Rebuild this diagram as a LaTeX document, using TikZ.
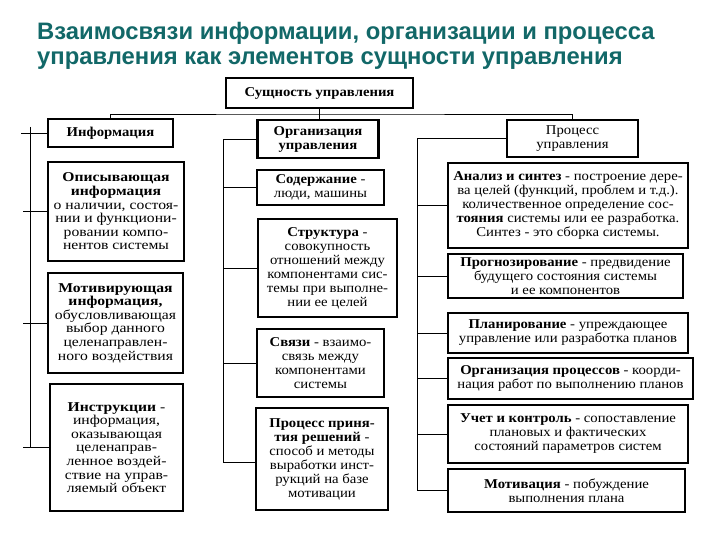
\documentclass[tikz,border=0pt]{standalone}
\usepackage{fontspec}
\setmainfont{Liberation Serif}[FakeStretch=1.09]
\newfontfamily\widefont{Liberation Serif}[FakeStretch=1.16]
\newfontfamily\titlefont{Liberation Sans}
\definecolor{titlecol}{RGB}{18,104,104}
\begin{document}
\begin{tikzpicture}[x=1pt,y=-1pt,
  bx/.style={draw=black, line width=2.4pt, fill=white, align=center, inner sep=2pt,
    font=\fontsize{13.5}{14}\selectfont},
  wbx/.style={bx, font=\widefont\fontsize{13.5}{13.6}\selectfont},
  conn/.style={draw=black, line width=0.85pt},
  ttl/.style={anchor=base west, text=titlecol, font=\titlefont\bfseries\fontsize{23.8}{26}\selectfont, inner sep=0pt}]
\useasboundingbox (0,0) rectangle (720,540);
\fill[white] (0,0) rectangle (720,540);

\node[ttl] (title1) at (37,40) {Взаимосвязи информации, организации и процесса};
\node[ttl] (title2) at (37,65) {управления как элементов сущности управления};

% top level
\node[bx, minimum width=187, minimum height=30] (top) at (319.5,93) {\textbf{Сущность управления}};
\node[bx, minimum width=125, minimum height=28] (info) at (110.5,133) {\textbf{Информация}};
\node[bx, minimum width=121, minimum height=38] (org) at (318,139) {\textbf{Организация}\\\textbf{управления}};
\node[bx, minimum width=131, minimum height=37] (proc) at (572.5,138.5) {Процесс\\управления};

% left column
\node[wbx, minimum width=136, minimum height=99] (desc) at (116,211.5) {\textbf{Описывающая}\\\textbf{информация}\\о наличии, состоя-\\нии и функциони-\\ровании компо-\\нентов системы};
\node[wbx, minimum width=135, minimum height=100] (motiv) at (115.5,323) {\textbf{Мотивирующая}\\\textbf{информация,}\\обусловливающая\\выбор данного\\целенаправлен-\\ного воздействия};
\node[wbx, minimum width=133, minimum height=127] (instr) at (116.5,447.5) {\textbf{Инструкции} -\\информация,\\оказывающая\\целенаправ-\\ленное воздей-\\ствие на управ-\\ляемый объект};

% middle column
\node[bx, minimum width=127, minimum height=35] (cont) at (320.5,187.5) {\textbf{Содержание} -\\люди, машины};
\node[bx, minimum width=139, minimum height=98] (struct) at (327.5,268) {\textbf{Структура} -\\совокупность\\отношений между\\компонентами сис-\\темы при выполне-\\нии ее целей};
\node[bx, minimum width=127, minimum height=68] (links) at (320.5,363) {\textbf{Связи} - взаимо-\\связь между\\компонентами\\системы};
\node[bx, minimum width=132, minimum height=102] (dec) at (322,459) {\textbf{Процесс приня-}\\\textbf{тия решений} -\\способ и методы\\выработки инст-\\рукций на базе\\мотивации};

% right column
\node[bx, minimum width=240, minimum height=85] (anal) at (568,205.5) {\textbf{Анализ и синтез} - построение дере-\\ва целей (функций, проблем и т.д.).\\количественное определение сос-\\\textbf{тояния} системы или ее разработка.\\Синтез - это сборка системы.};
\node[bx, minimum width=235, minimum height=44] (prog) at (565.5,276) {\textbf{Прогнозирование} - предвидение\\будущего состояния системы\\и ее компонентов};
\node[bx, minimum width=240, minimum height=40] (plan) at (568,333) {\textbf{Планирование} - упреждающее\\управление или разработка планов};
\node[bx, minimum width=245, minimum height=41] (orgp) at (570.5,378.5) {\textbf{Организация процессов} - коорди-\\нация работ по выполнению планов};
\node[bx, minimum width=240, minimum height=58] (uchet) at (568,434) {\textbf{Учет и контроль} - сопоставление\\плановых и фактических\\состояний параметров систем};
\node[bx, minimum width=237, minimum height=43] (motv) at (566.5,490.5) {\textbf{Мотивация} - побуждение\\выполнения плана};

% connectors: top bus
\coordinate (bus) at (319.5,114);
\draw[conn] (info.north) |- (bus) -| (proc.north);
\draw[conn] (top.south) -- (top.south |- org.north);

% left bus
\coordinate (lt) at (30,127);
\draw[conn] (lt) -- (lt |- instr.west) -- (instr.west);
\draw[conn] (info.west) -- ++(-26,0);
\draw[conn] (desc.west) -- ++(-24,0);
\draw[conn] (motiv.west) -- ++(-24,0);
\draw[conn] (instr.west) -- ++(-26,0);

% middle bus
\coordinate (mb) at (223,462);
\draw[conn] (org.west) -| (mb) -- (mb -| dec.west);
\draw[conn] (cont.west) -- (cont.west -| mb);
\draw[conn] (struct.west) -- (struct.west -| mb);
\draw[conn] (links.west) -- (links.west -| mb);

% right bus
\coordinate (rb) at (417,490.5);
\draw[conn] (proc.west) -| (rb) -- (motv.west);
\draw[conn] (anal.west) -- (anal.west -| rb);
\draw[conn] (prog.west) -- (prog.west -| rb);
\draw[conn] (plan.west) -- (plan.west -| rb);
\draw[conn] (orgp.west) -- (orgp.west -| rb);
\draw[conn] (uchet.west) -- (uchet.west -| rb);
\end{tikzpicture}
\end{document}
